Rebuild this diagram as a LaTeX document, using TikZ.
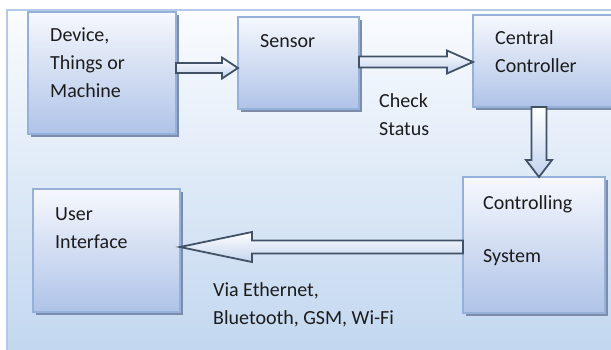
\documentclass[tikz,border=0pt]{standalone}
\usepackage{fontspec}
\setmainfont{Carlito}
\usetikzlibrary{calc}
\definecolor{bgtop}{HTML}{FAFCFF}
\definecolor{bgbot}{HTML}{C2D7EF}
\definecolor{bgline}{HTML}{B4C9E6}
\definecolor{boxline}{HTML}{95B1DA}
\definecolor{boxtop}{HTML}{F6F8FD}
\definecolor{boxbot}{HTML}{AFC3E8}
\definecolor{shadowc}{HTML}{7D8CAB}
\definecolor{arrline}{HTML}{415166}
\definecolor{arrbot}{HTML}{C3D3EE}
\definecolor{txt}{HTML}{1C1C1C}
\begin{document}
\begin{tikzpicture}[x=1pt,y=1pt,
  blockbox/.style={draw=boxline, line width=2pt, top color=boxtop, bottom color=boxbot},
  shadowbox/.style={fill=shadowc},
  harrow/.style={draw=arrline, line width=1.8pt, line join=miter, top color=white, bottom color=arrbot},
  lbl/.style={font=\fontsize{20}{28}\selectfont, text=txt, align=left, inner sep=0pt, anchor=north west}]
\useasboundingbox (0,0) rectangle (611,-349);
% background panel
\draw[draw=bgline, line width=1.5pt, top color=bgtop, bottom color=bgbot] (7,-10) rectangle (616,-352);
% boxes with shadows
\newcommand\blockat[5]{%
  \fill[shadowbox] (#2+3,-#3-3) rectangle (#4+3,-#5-3);
  \path[blockbox] (#2,-#3) rectangle (#4,-#5);
  \coordinate (#1-nw) at (#2,-#3);
  \coordinate (#1-se) at (#4,-#5);
  \node[coordinate] (#1) at ({(#2+#4)/2},{-(#3+#5)/2}) {};}
\blockat{dev}{28}{12}{176}{134}
\blockat{sen}{238}{17}{359}{109}
\blockat{cc}{473}{15}{618}{107}
\blockat{cs}{463}{177}{605}{313}
\blockat{ui}{33}{189}{180}{312}
% labels
\node[lbl] (tdev) at (50,-28) {Device,\\Things or\\Machine};
\node[lbl] (tsen) at (260,-34) {Sensor};
\node[lbl] (tcc) at (495,-30) {Central\\Controller};
\node[lbl] (tcs) at (483,-195) {Controlling\\[25pt]System};
\node[lbl] (tui) at (55,-207) {User\\Interface};
\node[lbl] (tchk) at (379,-93) {Check\\Status};
\node[lbl] (tvia) at (213,-282) {Via Ethernet,\\Bluetooth, GSM, Wi-Fi};
% connector end points on the box borders
\coordinate (a1s) at (176,-68);  \coordinate (a1e) at (238,-68);
\coordinate (a2s) at (359,-62);  \coordinate (a2e) at (473,-62);
\coordinate (a3s) at (539,-107); \coordinate (a3e) at (539,-177);
\coordinate (a4s) at (463,-247); \coordinate (a4e) at (180,-247);
% hollow block arrows: start, tip, shaft half, head half, head length
\newcommand\hollowR[5]{%
  \draw[harrow] ($(#1)+(0,#3)$) -- ($(#2)+(-#5,#3)$) -- ($(#2)+(-#5,#4)$) -- (#2)
    -- ($(#2)+(-#5,-#4)$) -- ($(#2)+(-#5,-#3)$) -- ($(#1)+(0,-#3)$) -- cycle;}
\newcommand\hollowL[5]{%
  \draw[harrow] ($(#1)+(0,#3)$) -- ($(#2)+(#5,#3)$) -- ($(#2)+(#5,#4)$) -- (#2)
    -- ($(#2)+(#5,-#4)$) -- ($(#2)+(#5,-#3)$) -- ($(#1)+(0,-#3)$) -- cycle;}
\newcommand\hollowD[5]{%
  \draw[harrow] ($(#1)+(-#3,0)$) -- ($(#2)+(-#3,#5)$) -- ($(#2)+(-#4,#5)$) -- (#2)
    -- ($(#2)+(#4,#5)$) -- ($(#2)+(#3,#5)$) -- ($(#1)+(#3,0)$) -- cycle;}
\hollowR{a1s}{a1e}{5}{10.5}{16}
\hollowR{a2s}{a2e}{5.5}{11.5}{26}
\hollowD{a3s}{a3e}{7.5}{13}{17}
\hollowL{a4s}{a4e}{6.5}{15}{72}
\end{tikzpicture}
\end{document}
